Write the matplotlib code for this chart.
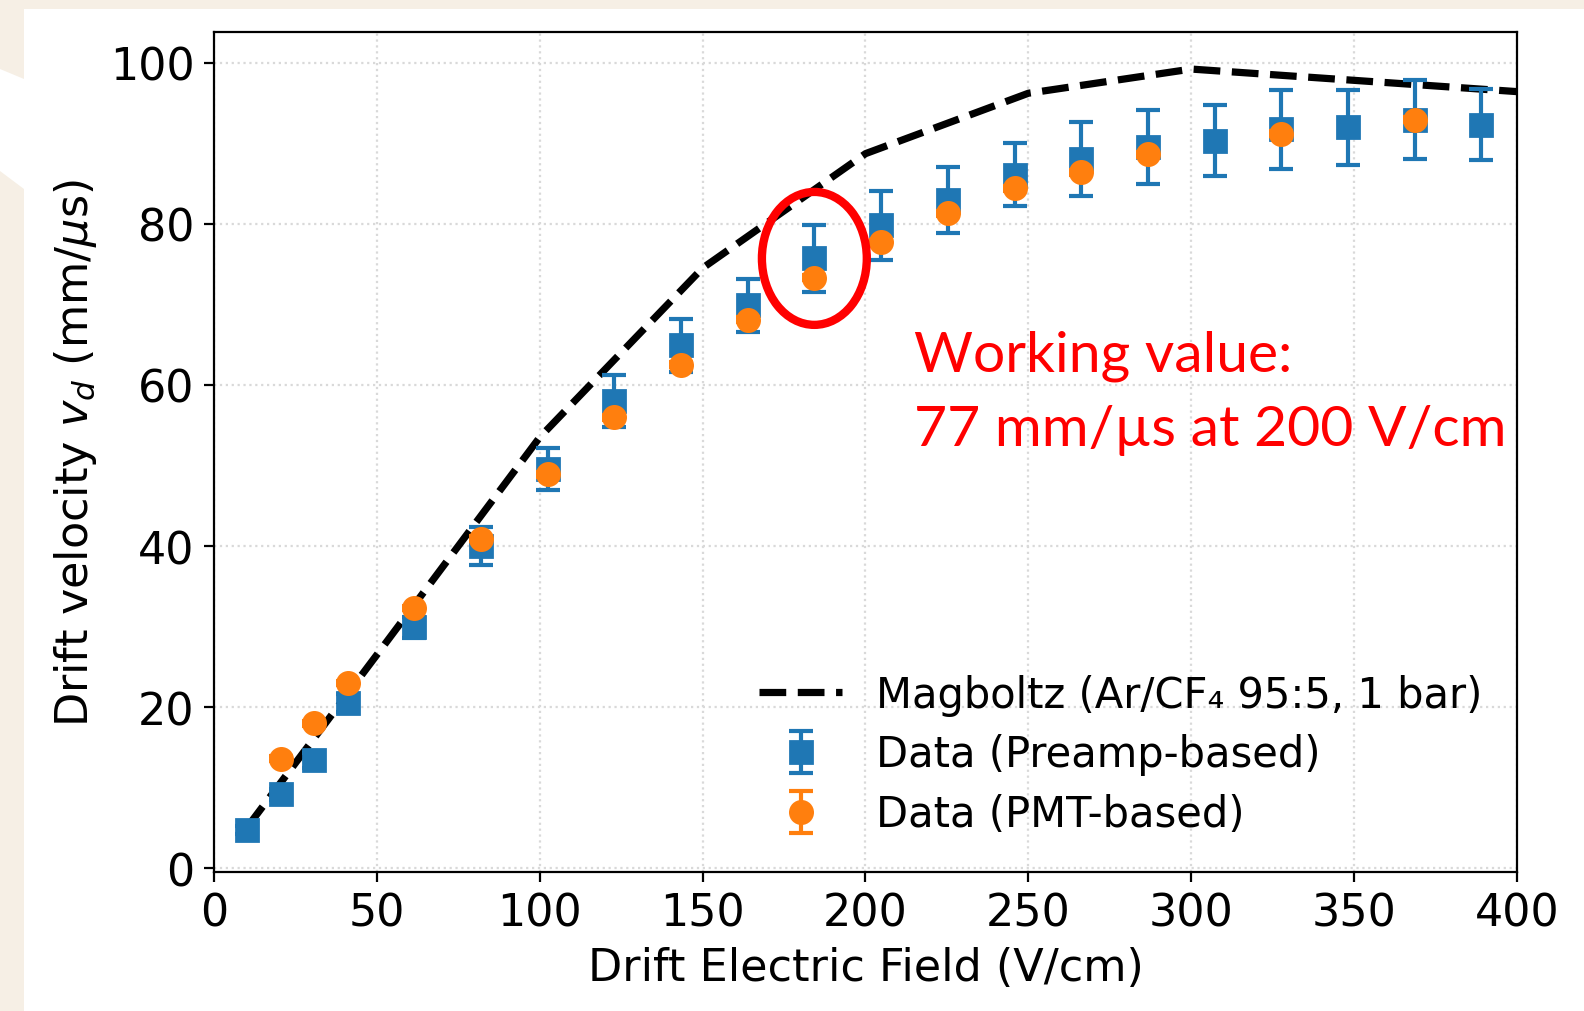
import matplotlib
matplotlib.use("Agg")
import matplotlib.pyplot as plt
from matplotlib.patches import Ellipse, Rectangle, Polygon

# Magboltz simulation (Ar/CF4 95:5, 1 bar)
magboltz_field = [10, 50, 100, 150, 200, 250, 300, 350, 400]
magboltz_vd = [5.0, 26.5, 53.5, 74.5, 88.7, 96.2, 99.2, 97.8, 96.4]

# preamp-based measurement
preamp_field = [10.2, 20.5, 30.7, 41.0, 61.4, 81.9, 102.4, 122.9, 143.4, 163.8, 184.3,
                204.8, 225.3, 245.8, 266.2, 286.7, 307.2, 327.7, 348.2, 368.6, 389.1]
preamp_vd = [4.7, 9.2, 13.4, 20.5, 29.9, 40.0, 49.6, 58.0, 64.9, 69.9, 75.7,
             79.8, 83.0, 86.1, 88.0, 89.5, 90.3, 91.7, 92.0, 92.9, 92.3]
preamp_err = [0.5, 0.7, 0.9, 1.1, 1.3, 2.4, 2.6, 3.25, 3.3, 3.3, 4.2,
              4.3, 4.1, 3.9, 4.6, 4.6, 4.4, 4.9, 4.65, 4.9, 4.4]

# PMT-based measurement
pmt_field = [20.5, 30.7, 41.0, 61.4, 81.9, 102.4, 122.9, 143.4, 163.8, 184.3,
             204.8, 225.3, 245.8, 266.2, 286.7, 327.7, 368.6]
pmt_vd = [13.6, 18.0, 23.0, 32.3, 40.9, 48.9, 56.0, 62.5, 68.1, 73.3,
          77.7, 81.3, 84.4, 86.4, 88.6, 91.2, 92.9]
pmt_err = [0.3, 0.3, 0.3, 0.3, 0.3, 0.3, 0.3, 0.3, 0.3, 0.3,
           0.3, 0.3, 0.3, 0.3, 0.3, 0.3, 0.3]

working_idx = 10  # 184 V/cm point that is circled

W, H = 1584, 1012
fig = plt.figure(figsize=(W / 200, H / 200), dpi=200)
fig.patch.set_facecolor("#F6EFE5")

# white slide panel + little white shape at the left edge
fig.patches.append(Rectangle((24 / W, 0), 1, 1 - 10 / H, transform=fig.transFigure,
                             facecolor="white", edgecolor="none", zorder=-10))
blob = [(0, 70), (24, 80), (24, 190), (0, 172)]
fig.patches.append(Polygon([(x / W, 1 - y / H) for x, y in blob], closed=True,
                           transform=fig.transFigure, facecolor="white",
                           edgecolor="none", zorder=-10))

ax = fig.add_axes([214 / W, 1 - 873 / H, (1517 - 214) / W, (873 - 33) / H])

fs = 16
blue = "#1f77b4"
orange = "#ff7f0e"

ax.plot(magboltz_field, magboltz_vd, "k--", lw=2.6,
        label="Magboltz (Ar/CF\u2084 95:5, 1 bar)", zorder=2)
ax.errorbar(preamp_field, preamp_vd, yerr=preamp_err, fmt="s", color=blue,
            ms=8, elinewidth=1.5, capsize=4.4, capthick=1.5,
            label="Data (Preamp-based)", zorder=3)
ax.errorbar(pmt_field, pmt_vd, yerr=pmt_err, fmt="o", color=orange,
            ms=8, elinewidth=1.5, capsize=4.4, capthick=1.5,
            label="Data (PMT-based)", zorder=4)

ax.add_patch(Ellipse((preamp_field[working_idx], preamp_vd[working_idx]),
                     width=32.2, height=16.5, fill=False, edgecolor="red",
                     lw=3.0, zorder=5))

ax.text(215, 61.8, "Working value:", color="red", fontsize=20.5, family="Lato",
        va="baseline", ha="left")
ax.text(215, 52.5, "77 mm/\u00b5s at 200 V/cm", color="red", fontsize=20.5,
        family="Lato", va="baseline", ha="left")

ax.set_xlim(0, 400)
ax.set_ylim(-0.46, 103.8)
ax.set_xticks([0, 50, 100, 150, 200, 250, 300, 350, 400])
ax.set_yticks([0, 20, 40, 60, 80, 100])
ax.grid(True, linestyle=":", color="#d9d9d9", linewidth=0.8)
ax.tick_params(axis="both", labelsize=fs)

ax.set_xlabel("Drift Electric Field (V/cm)", fontsize=fs)
ax.set_ylabel("Drift velocity $v_d$ (mm/$\\mu$s)", fontsize=fs)

ax.legend(loc="lower right", fontsize=15, frameon=False, labelspacing=0.43,
          bbox_to_anchor=(1.002, -0.001))

fig.savefig("out.png", dpi=200, facecolor=fig.get_facecolor())
